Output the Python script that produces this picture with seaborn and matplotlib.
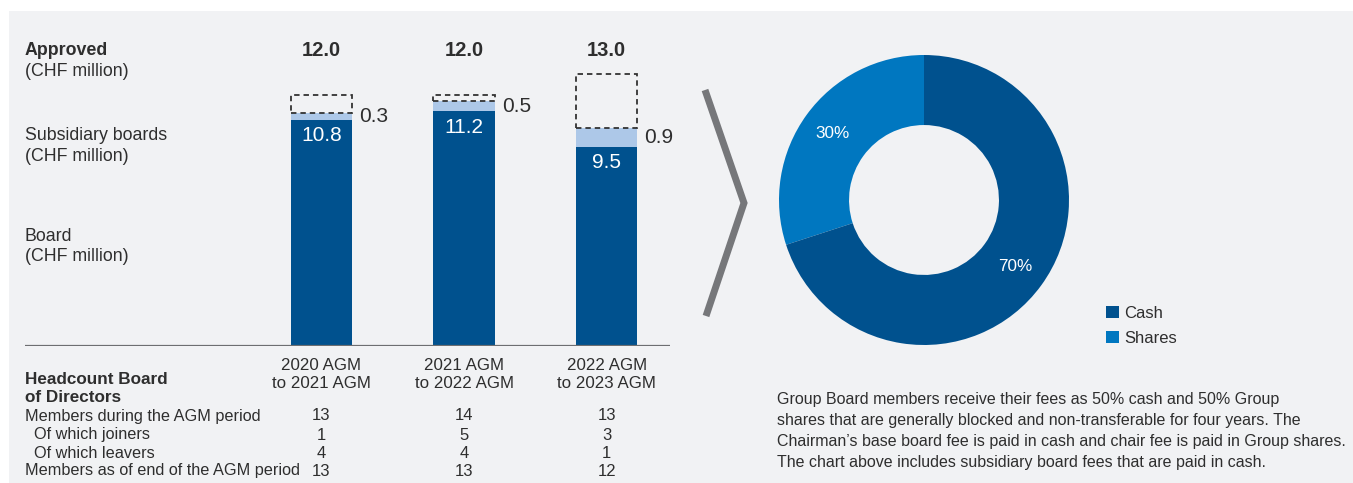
import matplotlib
matplotlib.use("Agg")
import matplotlib.pyplot as plt
import matplotlib.transforms as mtransforms
from matplotlib.lines import Line2D
from matplotlib.patches import Rectangle, Patch
import seaborn as sns
import pandas as pd
import numpy as np

# data
periods = ["2020 AGM\nto 2021 AGM", "2021 AGM\nto 2022 AGM", "2022 AGM\nto 2023 AGM"]
board_fees = [10.8, 11.2, 9.5]
subsidiary_fees = [0.3, 0.5, 0.9]
approved = [12.0, 12.0, 13.0]

row_labels = ["Members during the AGM period", "Of which joiners",
              "Of which leavers", "Members as of end of the AGM period"]
members_during = [13, 14, 13]
joiners = [1, 5, 3]
leavers = [4, 4, 1]
members_end = [13, 13, 12]

pay_labels = ["Shares", "Cash"]
pay_share = [30, 70]

caption = ("Group Board members receive their fees as 50% cash and 50% Group\n"
           "shares that are generally blocked and non-transferable for four years. The\n"
           "Chairman\u2019s base board fee is paid in cash and chair fee is paid in Group shares.\n"
           "The chart above includes subsidiary board fees that are paid in cash.")

# colours
DARK = "#00518e"
LIGHT = "#adc8e8"
SHARES = "#0077c0"
BG = "#f1f2f4"
TXT = "#2e2e2e"
GREY = "#76777a"

sns.set_style("white")
plt.rcParams["font.family"] = ["Liberation Sans", "DejaVu Sans"]
plt.rcParams["text.color"] = TXT

W, H = 1353, 483
fig = plt.figure(figsize=(W / 100, H / 100), dpi=100)
fig.patch.set_facecolor("white")


def fy(px):
    return 1 - px / H


def fx(px):
    return px / W


# grey panel
fig.add_artist(Rectangle((fx(9), 0), 1 - fx(9), fy(11), transform=fig.transFigure,
                         facecolor=BG, edgecolor="none", zorder=-10))

# ---- bar chart ----
ax = fig.add_axes([fx(25), fy(346), fx(670) - fx(25), fy(30) - fy(346)])
ax.set_facecolor("none")

df = pd.DataFrame({
    "period": periods,
    "board": board_fees,
    "subsidiary": subsidiary_fees,
    "approved": approved,
})
df["total"] = df["board"] + df["subsidiary"]

bw = 0.43
sns.barplot(data=df, x="period", y="total", color=LIGHT, saturation=1,
            width=bw, linewidth=0, ax=ax)
sns.barplot(data=df, x="period", y="board", color=DARK, saturation=1,
            width=bw, linewidth=0, ax=ax)
# unused part of the approved amount
ax.bar(np.arange(len(df)), df["approved"] - df["total"], bottom=df["total"],
       width=bw, fill=False, edgecolor="#333333", linestyle=(0, (3, 2.2)),
       linewidth=1.3)

ax.set_xlim(-2.08, 2.445)
ax.set_ylim(0, 316 / 20.95)
ax.set_xticks([])
ax.set_yticks([])
ax.set_xlabel("")
ax.set_ylabel("")
for s in ax.spines.values():
    s.set_visible(False)
ax.axhline(0, color="#6d6e71", linewidth=1.6, zorder=5)

for i, row in df.iterrows():
    ax.text(i, 14.1, f"{row['approved']:.1f}", ha="center", va="center",
            fontsize=14.5, fontweight="bold")
    ax.text(i, row["board"] - 0.75, f"{row['board']:.1f}", ha="center",
            va="center", fontsize=15, color="white")
    ax.text(i + bw / 2 + 0.05, row["board"] + row["subsidiary"] / 2,
            f"{row['subsidiary']:.1f}", ha="left", va="center", fontsize=15)

ytr = ax.get_yaxis_transform()
left_labels = [("Approved", 14.1, "bold"), ("(CHF million)", 13.1, "normal"),
               ("Subsidiary boards", 10.05, "normal"), ("(CHF million)", 9.05, "normal"),
               ("Board", 5.25, "normal"), ("(CHF million)", 4.25, "normal")]
for txt, yv, wt in left_labels:
    ax.text(0, yv, txt, transform=ytr, ha="left", va="center", fontsize=12.8,
            fontweight=wt)

# ---- headcount table ----
ttr = mtransforms.blended_transform_factory(ax.transData, fig.transFigure)
for i, p in enumerate(periods):
    l1, l2 = p.split("\n")
    ax.text(i, fy(366), l1, transform=ttr, ha="center", va="center", fontsize=12.2)
    ax.text(i, fy(384), l2, transform=ttr, ha="center", va="center", fontsize=12.2)

fig.text(fx(25), fy(379), "Headcount Board", ha="left", va="center",
         fontsize=12.3, fontweight="bold")
fig.text(fx(25), fy(398), "of Directors", ha="left", va="center",
         fontsize=12.3, fontweight="bold")

row_y = [416, 435, 453, 471]
row_x = [25, 34, 34, 25]
for lab, x, y, vals in zip(row_labels, row_x, row_y,
                           [members_during, joiners, leavers, members_end]):
    fig.text(fx(x), fy(y), lab, ha="left", va="center", fontsize=11.7)
    for i, v in enumerate(vals):
        ax.text(i, fy(y), str(v), transform=ttr, ha="center", va="center",
                fontsize=12)

# ---- chevron ----
fig.add_artist(Line2D([fx(705), fx(744), fx(706)], [fy(90), fy(203), fy(316)],
                      transform=fig.transFigure, color=GREY, linewidth=5,
                      solid_joinstyle="miter", solid_capstyle="butt"))

# ---- donut ----
R = 145
axp = fig.add_axes([fx(924 - R), fy(200 + R), 2 * R / W, 2 * R / H])
axp.set_facecolor("none")
wedges, texts, autotexts = axp.pie(
    pay_share, colors=[SHARES, DARK], startangle=90, counterclock=True,
    wedgeprops=dict(width=0.483, linewidth=0), autopct="%d%%", pctdistance=0.78,
    textprops=dict(color="white", fontsize=12.3))
axp.set_xlim(-1, 1)
axp.set_ylim(-1, 1)
axp.set_aspect("equal")

handles = [Patch(facecolor=DARK, edgecolor="none", label="Cash"),
           Patch(facecolor=SHARES, edgecolor="none", label="Shares")]
fig.legend(handles=handles, loc="center left",
           bbox_to_anchor=(fx(1106), fy(326)), frameon=False, fontsize=12,
           handlelength=0.75, handleheight=0.75, handletextpad=0.35,
           labelspacing=0.6, borderpad=0, borderaxespad=0)

fig.text(fx(777), fy(431), caption, ha="left", va="center", fontsize=11.5,
         linespacing=1.52)

fig.savefig("out.png", dpi=100, facecolor=fig.get_facecolor())
